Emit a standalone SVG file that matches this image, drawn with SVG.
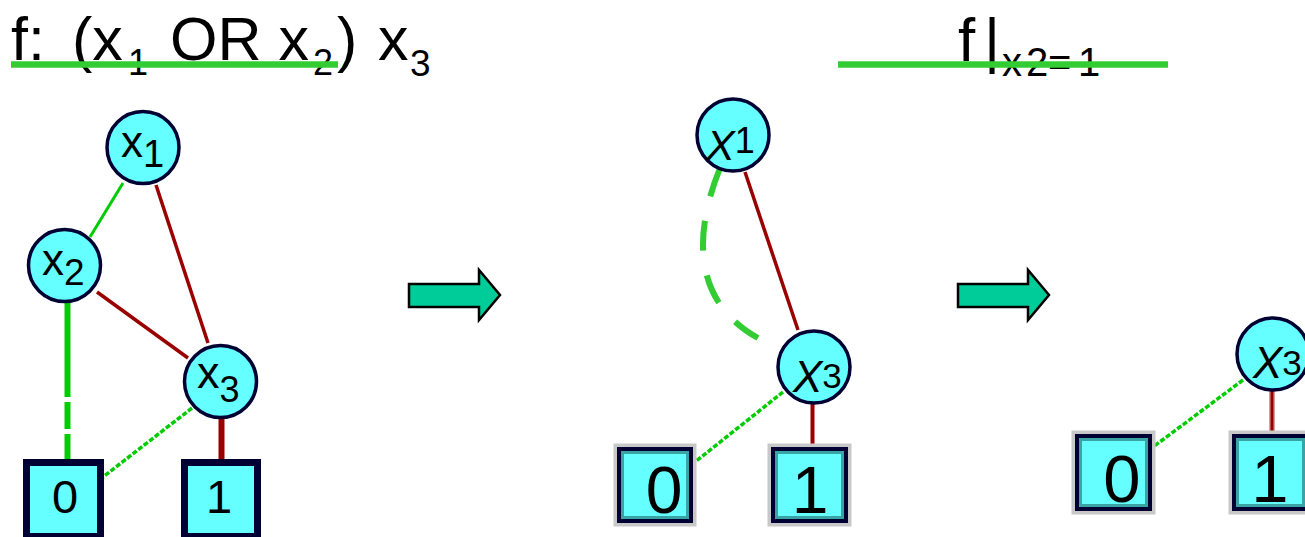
<svg xmlns="http://www.w3.org/2000/svg" width="1305" height="537" viewBox="0 0 1305 537">
<style>
  text { font-family: "Liberation Sans", Arial, sans-serif; fill: #000; }
  .node circle { fill: #66ffff; stroke: #000033; stroke-width: 3.5; }
  .leaf0 rect.main { fill: #66ffff; stroke: #000033; stroke-width: 7; }
  .halo { fill: none; stroke: #c8c8c8; stroke-width: 7; }
  .leaf rect.main { fill: #66ffff; stroke: #000033; stroke-width: 4; }
  .leaf rect.inner { fill: none; stroke: #3aa3a3; stroke-width: 3; }
  .g { stroke: #00cc00; fill: none; }
  .r { stroke: #990000; fill: none; }
  .fine { stroke-dasharray: 5 2; stroke-width: 3.5; }
  .arrow { fill: #00cc99; stroke: #000; stroke-width: 2.5; stroke-linejoin: miter; }
  .title-line { stroke: #33cc33; stroke-width: 6.5; }
</style>

<!-- Titles -->
<g id="title1">
  <text font-size="61" y="60"><tspan x="11">f:</tspan><tspan x="72">(x</tspan><tspan x="128" y="75" font-size="36">1</tspan><tspan x="170" y="60">OR x</tspan><tspan x="313" y="75" font-size="36">2</tspan><tspan x="337" y="60">)</tspan><tspan x="378" y="60">x</tspan><tspan x="410" y="76" font-size="37">3</tspan></text>
  <line class="title-line" x1="11" y1="64.5" x2="338" y2="64.5"/>
</g>
<g id="title2">
  <text font-size="62" y="61"><tspan x="958">f</tspan><tspan x="984">|</tspan><tspan font-size="40" x="1002" y="76">x</tspan><tspan font-size="40" x="1026" y="76">2</tspan><tspan font-size="40" x="1048" y="76">=</tspan><tspan font-size="40" x="1078" y="76">1</tspan></text>
  <line class="title-line" x1="838" y1="64.5" x2="1168" y2="64.5"/>
</g>

<!-- Connectors -->
<g id="connectors">
  <!-- left graph -->
  <line class="g" x1="123" y1="183" x2="90" y2="237" stroke-width="3"/>
  <line class="r" x1="156" y1="185" x2="208" y2="343" stroke-width="3.5"/>
  <line class="r" x1="97" y1="292" x2="188" y2="358" stroke-width="3.5"/>
  <line class="g" x1="67.5" y1="303" x2="67.5" y2="459" stroke-width="6" stroke-dasharray="94 5 27 5 40"/>
  <line class="g fine" x1="192" y1="408" x2="103" y2="477"/>
  <line class="r" x1="221.5" y1="418" x2="221.5" y2="459" stroke-width="6"/>
  <!-- middle graph -->
  <line class="r" x1="745" y1="172" x2="798" y2="330" stroke-width="3.5"/>
  <path d="M720,168 C695,230 690,300 758,338" stroke="#33cc33" fill="none" stroke-width="6" stroke-dasharray="30 25"/>
  <line class="g fine" x1="783" y1="392" x2="695" y2="462"/>
  <line class="r" x1="812.5" y1="404" x2="812.5" y2="447" stroke-width="4"/>
  <!-- right graph -->
  <line class="g fine" x1="1243" y1="380" x2="1153" y2="447"/>
  <line stroke="#d4a0a0" x1="1272" y1="391" x2="1272" y2="434" stroke-width="6"/>
  <line class="r" x1="1272" y1="391" x2="1272" y2="434" stroke-width="3"/>
</g>

<!-- Arrows -->
<g id="arrow1">
  <polygon class="arrow" points="409,284 479,284 479,270 500,295 479,320 479,307 409,307"/>
</g>
<g id="arrow2">
  <polygon class="arrow" points="958,284 1028,284 1028,270 1049,295 1028,320 1028,307 958,307"/>
</g>

<!-- Left graph nodes -->
<g id="L-x1" class="node">
  <circle cx="143" cy="147.5" r="36"/>
  <text x="121" y="157" font-size="44">x<tspan font-size="38" dy="10">1</tspan></text>
</g>
<g id="L-x2" class="node">
  <circle cx="64.5" cy="265.5" r="36"/>
  <text x="42" y="275" font-size="44">x<tspan font-size="37" dy="10">2</tspan></text>
</g>
<g id="L-x3" class="node">
  <circle cx="220.5" cy="381.5" r="36"/>
  <text x="197" y="388" font-size="45">x<tspan font-size="36" dy="14">3</tspan></text>
</g>
<g id="L-0" class="leaf0">
  <rect class="main" x="26.5" y="462.5" width="74" height="74"/>
  <text x="65" y="513" font-size="47" text-anchor="middle">0</text>
</g>
<g id="L-1" class="leaf0">
  <rect class="main" x="184.5" y="462.5" width="73" height="74"/>
  <text x="219" y="513" font-size="47" text-anchor="middle">1</text>
</g>

<!-- Middle graph nodes -->
<g id="M-x1" class="node">
  <circle cx="733" cy="135" r="36"/>
  <text x="706" y="160" font-size="43" font-style="italic">X<tspan font-style="normal" font-size="36" dy="-7">1</tspan></text>
</g>
<g id="M-x3" class="node">
  <circle cx="814" cy="367" r="36"/>
  <text x="793" y="392" font-size="44" font-style="italic">X<tspan font-style="normal" font-size="35" dy="-4">3</tspan></text>
</g>
<g id="M-0" class="leaf">
  <rect class="halo" x="617" y="447" width="76" height="76"/>
  <rect class="main" x="619" y="449" width="72" height="72"/>
  <rect class="inner" x="622.5" y="452.5" width="65" height="65"/>
  <text x="664" y="513" font-size="66" text-anchor="middle">0</text>
</g>
<g id="M-1" class="leaf">
  <rect class="halo" x="771" y="447" width="77" height="76"/>
  <rect class="main" x="773" y="449" width="73" height="72"/>
  <rect class="inner" x="776.5" y="452.5" width="66" height="65"/>
  <text x="810" y="513" font-size="66" text-anchor="middle">1</text>
</g>

<!-- Right graph nodes -->
<g id="R-x3" class="node">
  <circle cx="1273" cy="354" r="36"/>
  <text x="1253" y="378" font-size="44" font-style="italic">X<tspan font-style="normal" font-size="35" dy="-3">3</tspan></text>
</g>
<g id="R-0" class="leaf">
  <rect class="halo" x="1075" y="434" width="77" height="77"/>
  <rect class="main" x="1077" y="436" width="73" height="73"/>
  <rect class="inner" x="1080.5" y="439.5" width="66" height="66"/>
  <text x="1122" y="502" font-size="67" text-anchor="middle">0</text>
</g>
<g id="R-1" class="leaf">
  <rect class="halo" x="1232" y="434" width="77" height="77"/>
  <rect class="main" x="1234" y="436" width="73" height="73"/>
  <rect class="inner" x="1237.5" y="439.5" width="66" height="66"/>
  <text x="1270" y="502" font-size="67" text-anchor="middle">1</text>
</g>
</svg>
